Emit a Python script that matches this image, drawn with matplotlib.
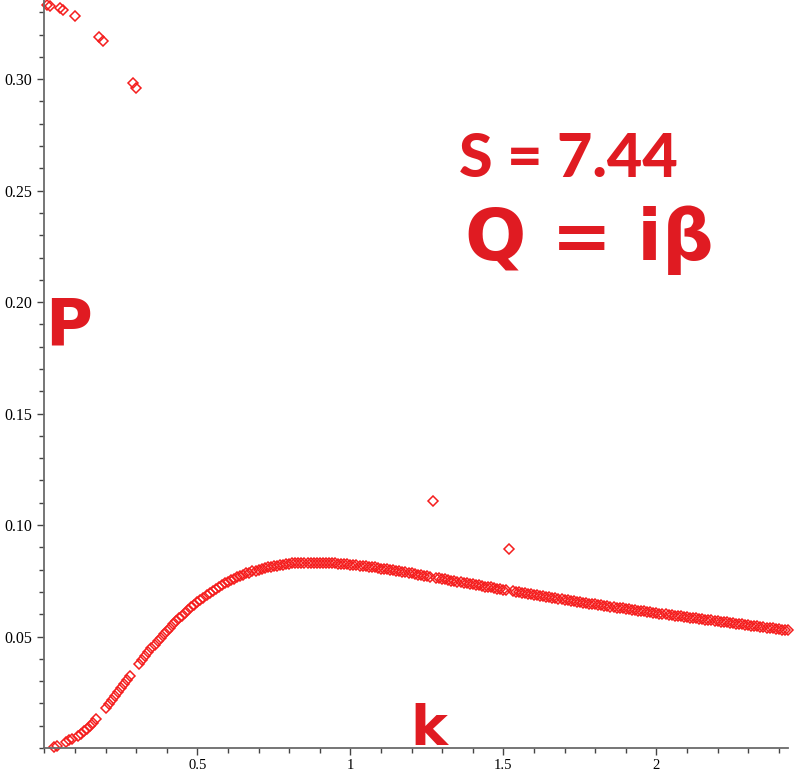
import numpy as np
import matplotlib.pyplot as plt
from matplotlib.ticker import MultipleLocator, FixedLocator

# sample points k = 0.01 ... 2.43 (step 0.01), one root P per k
k = np.round(np.arange(1, 244) / 100, 2)
P = [
    0.3332, 0.3327, 0.0004, 0.0007, 0.3321, 0.3312, 0.0028, 0.0034, 0.0041, 0.3285,
    0.0055, 0.0064, 0.0075, 0.0087, 0.0100, 0.0114, 0.0129, 0.3188, 0.3171, 0.0180,
    0.0197, 0.0214, 0.0232, 0.0250, 0.0268, 0.0286, 0.0305, 0.0323, 0.2984, 0.2962,
    0.0378, 0.0396, 0.0413, 0.0430, 0.0447, 0.0463, 0.0479, 0.0495, 0.0510, 0.0525,
    0.0540, 0.0554, 0.0568, 0.0581, 0.0594, 0.0607, 0.0619, 0.0631, 0.0642, 0.0654,
    0.0664, 0.0675, 0.0685, 0.0695, 0.0704, 0.0713, 0.0722, 0.0730, 0.0738, 0.0745,
    0.0753, 0.0759, 0.0766, 0.0772, 0.0778, 0.0783, 0.0787, 0.0792, 0.0796, 0.0800,
    0.0803, 0.0807, 0.0810, 0.0813, 0.0816, 0.0818, 0.0821, 0.0823, 0.0825, 0.0826,
    0.0828, 0.0829, 0.0830, 0.0831, 0.0831, 0.0832, 0.0832, 0.0832, 0.0832, 0.0831,
    0.0831, 0.0830, 0.0830, 0.0829, 0.0828, 0.0827, 0.0826, 0.0825, 0.0824, 0.0822,
    0.0821, 0.0820, 0.0818, 0.0817, 0.0815, 0.0814, 0.0812, 0.0810, 0.0808, 0.0805,
    0.0803, 0.0801, 0.0799, 0.0797, 0.0794, 0.0792, 0.0790, 0.0788, 0.0785, 0.0783,
    0.0781, 0.0778, 0.0776, 0.0773, 0.0771, 0.0769, 0.1108, 0.0764, 0.0761, 0.0759,
    0.0756, 0.0754, 0.0751, 0.0749, 0.0746, 0.0744, 0.0741, 0.0739, 0.0736, 0.0734,
    0.0732, 0.0729, 0.0727, 0.0724, 0.0722, 0.0720, 0.0717, 0.0715, 0.0712, 0.0710,
    0.0708, 0.0892, 0.0703, 0.0701, 0.0698, 0.0696, 0.0694, 0.0692, 0.0689, 0.0687,
    0.0685, 0.0683, 0.0680, 0.0678, 0.0676, 0.0674, 0.0672, 0.0669, 0.0667, 0.0665,
    0.0663, 0.0661, 0.0659, 0.0657, 0.0655, 0.0652, 0.0650, 0.0648, 0.0646, 0.0644,
    0.0642, 0.0640, 0.0638, 0.0636, 0.0634, 0.0632, 0.0630, 0.0628, 0.0626, 0.0624,
    0.0622, 0.0620, 0.0618, 0.0616, 0.0615, 0.0613, 0.0611, 0.0609, 0.0607, 0.0605,
    0.0603, 0.0601, 0.0599, 0.0597, 0.0596, 0.0594, 0.0592, 0.0590, 0.0588, 0.0586,
    0.0584, 0.0582, 0.0581, 0.0579, 0.0577, 0.0575, 0.0573, 0.0572, 0.0570, 0.0568,
    0.0566, 0.0564, 0.0563, 0.0561, 0.0559, 0.0557, 0.0555, 0.0554, 0.0552, 0.0550,
    0.0548, 0.0546, 0.0545, 0.0543, 0.0541, 0.0539, 0.0538, 0.0536, 0.0534, 0.0532,
    0.0531, 0.0529, 0.0527,
]

x_ticks = [0.5, 1, 1.5, 2]
x_labels = ["0.5", "1", "1.5", "2"]
y_ticks = [0.05, 0.10, 0.15, 0.20, 0.25, 0.30]
y_labels = ["0.05", "0.10", "0.15", "0.20", "0.25", "0.30"]

notes = ["S = 7.44", "Q = i\u03b2", "P", "k"]

fig = plt.figure(figsize=(8.01, 7.74), dpi=100)
ax = fig.add_axes([0.0554, 0.0336, 0.9283, 0.9664])

ax.plot(k, P, linestyle="none", marker="D", markersize=5.4,
        markerfacecolor="none", markeredgecolor="#f51e1e", markeredgewidth=1.1,
        clip_on=False)

ax.set_xlim(0, 2.43)
ax.set_ylim(0, 0.3355)

for s in ["top", "right"]:
    ax.spines[s].set_visible(False)
for s in ["left", "bottom"]:
    ax.spines[s].set_color("#6a6a6a")
    ax.spines[s].set_linewidth(1.3)

ax.xaxis.set_major_locator(FixedLocator(x_ticks))
ax.set_xticklabels(x_labels)
ax.yaxis.set_major_locator(FixedLocator(y_ticks))
ax.set_yticklabels(y_labels)
ax.xaxis.set_minor_locator(MultipleLocator(0.1))
ax.yaxis.set_minor_locator(MultipleLocator(0.01))

ax.tick_params(which="major", length=5, width=1, color="#444444", pad=4,
               labelsize=11.5, labelcolor="black")
ax.tick_params(axis="x", which="major", pad=3, labelsize=10.5)
ax.tick_params(which="minor", length=3.3, width=1, color="#444444")
for lab in ax.get_xticklabels() + ax.get_yticklabels():
    lab.set_fontfamily("Liberation Serif")

hand = dict(color="#e01b22", fontweight="bold", transform=ax.transAxes,
            va="baseline", ha="left")
ax.text(0.557, 0.764, notes[0], fontsize=44, family=["Lato", "DejaVu Sans"],
        fontweight="black", color="#e01b22", transform=ax.transAxes,
        va="baseline", ha="left")
ax.text(0.566, 0.652, notes[1], fontsize=52, family="DejaVu Sans", **hand)
ax.text(0.001, 0.540, notes[2], fontsize=46, family="DejaVu Sans", **hand)
ax.text(0.492, 0.004, notes[3], fontsize=40, family="DejaVu Sans", **hand)

fig.savefig("out.png", dpi=100)
